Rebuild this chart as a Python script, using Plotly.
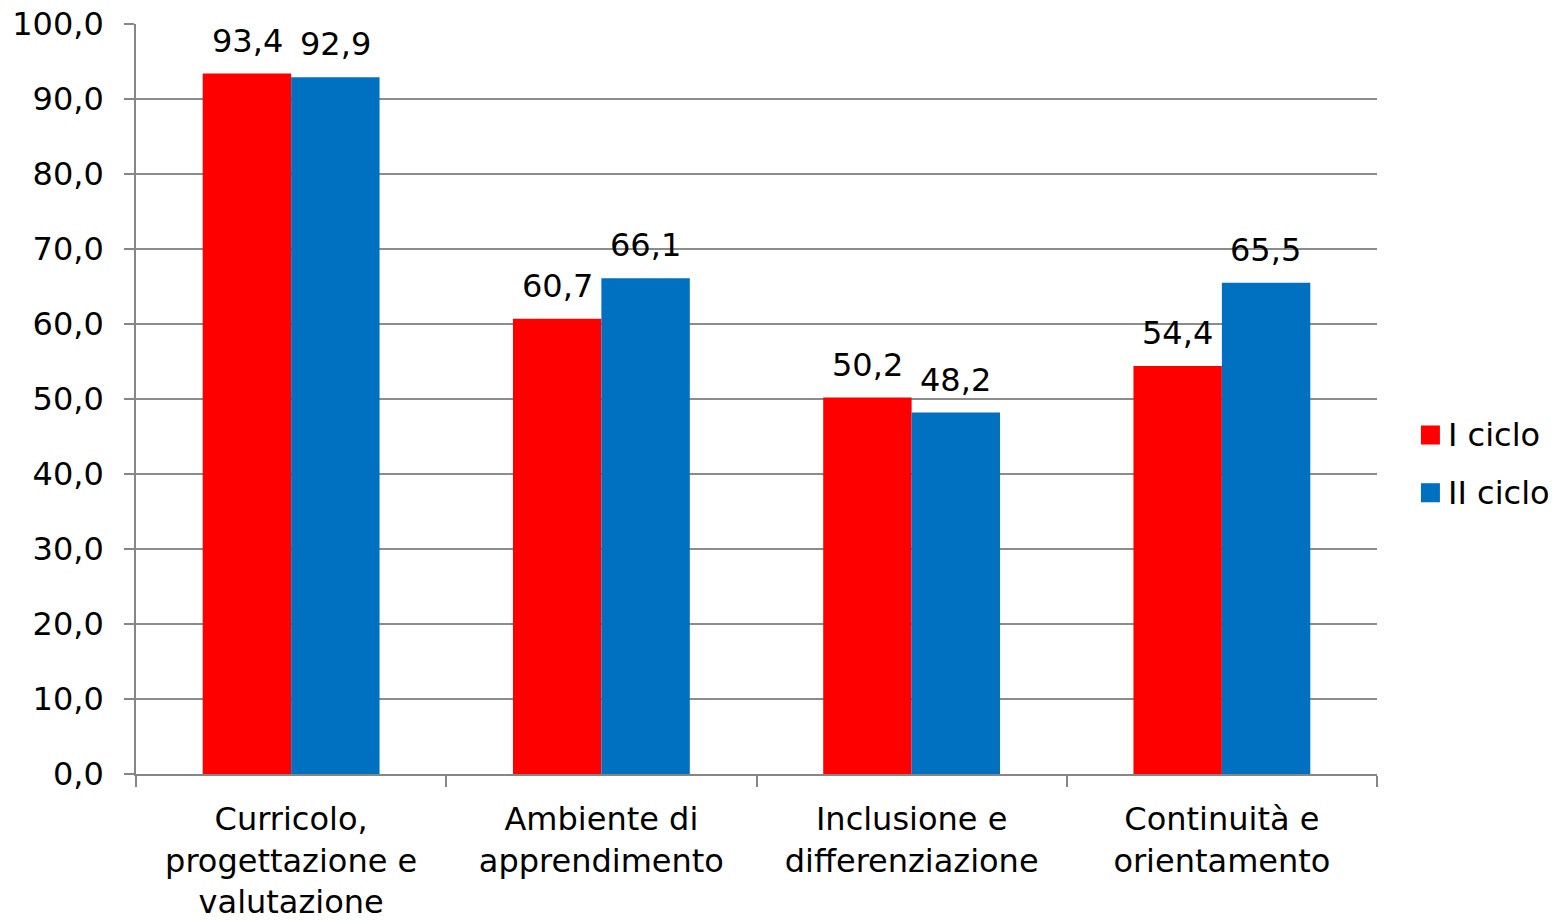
import plotly.graph_objects as go

categories = [
    "Curricolo,<br>progettazione e<br>valutazione",
    "Ambiente di<br>apprendimento",
    "Inclusione e<br>differenziazione",
    "Continuità e<br>orientamento",
]
series_names = ["I ciclo", "II ciclo"]
i_ciclo = [93.4, 60.7, 50.2, 54.4]
ii_ciclo = [92.9, 66.1, 48.2, 65.5]
y_ticks = [0, 10, 20, 30, 40, 50, 60, 70, 80, 90, 100]

colors = ["#FF0000", "#0070C0"]
FONT = "DejaVu Sans"
FS = 32

fig = go.Figure()
for name, vals, col in zip(series_names, [i_ciclo, ii_ciclo], colors):
    fig.add_trace(go.Bar(
        x=categories, y=vals, name=name,
        marker=dict(color=col, line=dict(width=0)),
        showlegend=False,
    ))

# value labels above each bar
for vals, dx in zip([i_ciclo, ii_ciclo], [-44, 44]):
    for cat, v in zip(categories, vals):
        fig.add_annotation(x=cat, y=v, text=f"{v:.1f}".replace(".", ","),
                           showarrow=False, xanchor="center", yanchor="bottom",
                           xshift=dx, yshift=12,
                           font=dict(size=FS, color="#000000", family=FONT))

# legend drawn as squares + text on the right
legend_y = [0.452, 0.375]
for name, col, ly in zip(series_names, colors, legend_y):
    fig.add_shape(type="rect", xref="paper", yref="paper",
                  x0=1.0354, x1=1.0507, y0=ly - 0.0127, y1=ly + 0.0127,
                  fillcolor=col, line=dict(width=0))
    fig.add_annotation(xref="paper", yref="paper", x=1.0555, y=ly,
                       text=name, showarrow=False, xanchor="left", yanchor="middle",
                       font=dict(size=FS, color="#000000", family=FONT))

fig.update_layout(
    width=1565, height=920,
    margin=dict(l=136, r=188, t=24, b=146, autoexpand=False),
    paper_bgcolor="white", plot_bgcolor="white",
    barmode="group", bargap=0.43, bargroupgap=0,
    separators=",.",
    font=dict(family=FONT, size=FS, color="#000000"),
    xaxis=dict(
        type="category", tickson="boundaries",
        ticks="outside", ticklen=11, tickcolor="#868686", tickwidth=1.5,
        showline=True, linecolor="#868686", linewidth=1.5,
        tickfont=dict(size=FS, family=FONT, color="#000000"),
        ticklabelstandoff=16,
        showgrid=False, automargin=False,
    ),
    yaxis=dict(
        range=[0, 100], tickvals=y_ticks, tickformat=".1f",
        ticks="outside", ticklen=10, tickcolor="#868686", tickwidth=1.5,
        showline=True, linecolor="#868686", linewidth=1.5,
        showgrid=True, gridcolor="#8c8c8c", gridwidth=1.5,
        zeroline=False, automargin=False,
        ticklabelstandoff=14,
        tickfont=dict(size=FS, family=FONT, color="#000000"),
    ),
)

fig.write_html("out.html")
